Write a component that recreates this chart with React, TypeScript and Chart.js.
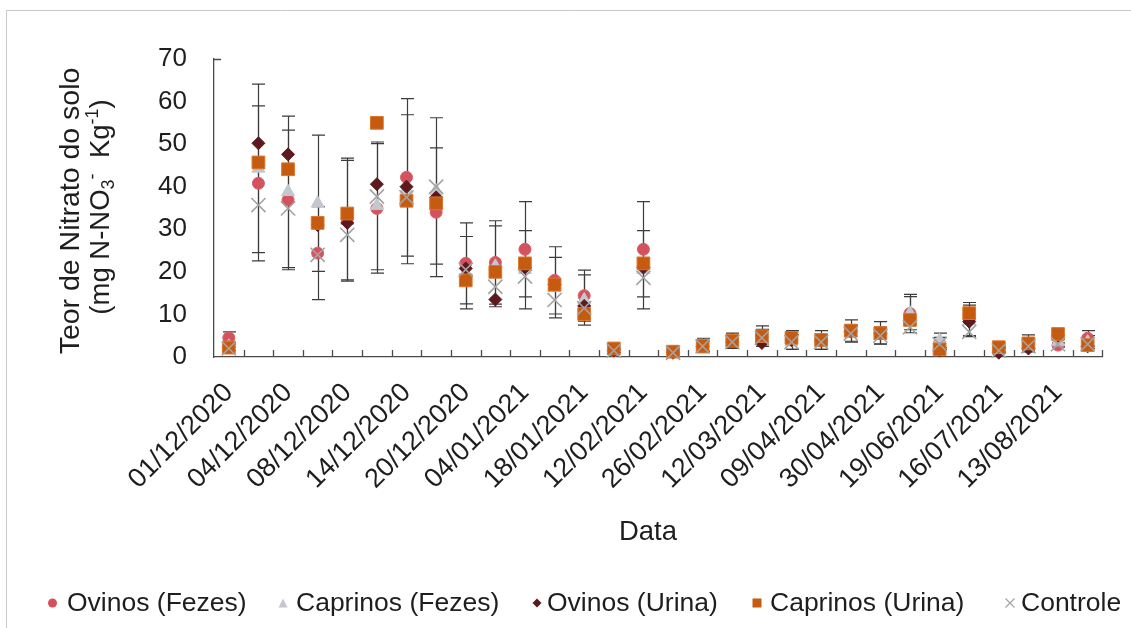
import React, { useEffect, useRef } from 'react';
import { Chart, registerables } from 'chart.js';

Chart.register(...registerables);

const categories = [
  '01/12/2020', '', '04/12/2020', '', '08/12/2020', '', '14/12/2020', '', '20/12/2020', '',
  '04/01/2021', '', '18/01/2021', '', '12/02/2021', '', '26/02/2021', '', '12/03/2021', '',
  '09/04/2021', '', '30/04/2021', '', '19/06/2021', '', '16/07/2021', '', '13/08/2021', '',
];

const yTicks = [0, 10, 20, 30, 40, 50, 60, 70];

const ovinosFezes = [4.5, 40.8, 36.9, 24.4, 32.4, 34.9, 42.2, 34.0, 22.0, 22.2, 25.3, 18.0, 14.4, 1.5, 25.3, 1.2, 2.7, 3.9, 4.9, 4.0, 4.0, 6.2, 5.7, 10.2, 3.2, 8.9, 1.8, 3.2, 2.8, 4.4];
const errOvinosFezes = [1.4, 18.2, 16.4, 10.9, 14.3, 15.2, 18.5, 15.1, 9.5, 9.8, 11.2, 7.9, 6.0, 0.5, 11.2, 0.4, 1.7, 1.7, 2.4, 2.2, 2.2, 2.5, 2.6, 4.5, 1.4, 3.9, 0.6, 2.0, 0.5, 1.8];

const caprinosFezes = [2.5, 44.3, 38.8, 36.1, 32.0, 35.5, 39.4, 39.0, 19.8, 21.3, 20.5, 16.3, 13.4, 1.5, 20.5, 1.0, 2.5, 3.5, 4.5, 3.5, 3.5, 5.5, 5.0, 10.3, 3.9, 8.5, 1.5, 2.8, 3.5, 3.5];
const errCaprinosFezes = [1.0, 19.8, 17.8, 16.0, 14.2, 15.0, 17.5, 17.2, 8.5, 9.5, 9.2, 7.1, 5.9, 0.5, 9.2, 0.4, 1.2, 1.5, 2.0, 1.7, 1.7, 2.0, 2.0, 3.9, 1.7, 3.7, 0.5, 1.2, 1.0, 1.5];

const ovinosUrina = [2.3, 50.2, 47.6, 31.0, 31.5, 40.6, 40.0, 37.5, 20.8, 13.5, 21.0, 17.0, 12.0, 1.5, 21.0, 1.0, 2.5, 3.5, 3.3, 4.0, 3.8, 6.0, 5.5, 8.5, 1.5, 8.3, 1.0, 2.0, 5.0, 2.5];

const caprinosUrina = [2.2, 45.7, 44.1, 31.5, 33.7, 55.0, 36.7, 36.1, 18.0, 20.0, 22.0, 17.0, 10.1, 2.0, 22.0, 1.25, 2.6, 3.8, 4.9, 4.5, 4.0, 6.2, 5.6, 8.7, 1.8, 10.3, 2.3, 3.2, 5.4, 2.8];

const controle = [2.0, 35.7, 34.9, 24.0, 28.7, 37.7, 37.5, 40.0, 20.5, 16.5, 18.9, 13.4, 11.5, 1.5, 18.6, 1.0, 2.5, 3.5, 4.5, 3.5, 3.5, 5.5, 5.0, 7.0, 3.0, 5.9, 1.5, 2.5, 3.0, 3.0];

const FONT = '"Liberation Sans", Arial, Helvetica, sans-serif';
const TEXT = '#1e1e1e';
const AXIS = '#4a4a4a';

const series = [
  { label: 'Ovinos (Fezes)', data: ovinosFezes, err: errOvinosFezes, style: 'circle', radius: 6, bg: '#D4525D', border: '#D95F69', bw: 1 },
  { label: 'Caprinos (Fezes)', data: caprinosFezes, err: errCaprinosFezes, style: 'triangle', radius: 7.5, bg: '#C4C7CF', border: '#C4C7CF', bw: 1 },
  { label: 'Ovinos (Urina)', data: ovinosUrina, err: null, style: 'rectRot', radius: 6.5, bg: '#5C1A1E', border: '#5C1A1E', bw: 1 },
  { label: 'Caprinos (Urina)', data: caprinosUrina, err: null, style: 'rect', radius: 9, bg: '#C55A11', border: '#DD7428', bw: 1 },
  { label: 'Controle', data: controle, err: null, style: 'crossRot', radius: 10, bg: 'rgba(0,0,0,0)', border: '#A3A3A3', bw: 1.6 },
];

// legend layout (marker centre x, text start x)
const legendMarkerX = [52.5, 283, 537, 757, 1010];
const legendTextX = [67, 296, 547, 770, 1021];

function drawMarker(ctx: CanvasRenderingContext2D, style: string, x: number, y: number, s: number, fill: string, stroke: string) {
  ctx.save();
  ctx.beginPath();
  ctx.fillStyle = fill;
  ctx.strokeStyle = stroke;
  if (style === 'circle') {
    ctx.arc(x, y, s / 2, 0, Math.PI * 2);
    ctx.fill();
  } else if (style === 'triangle') {
    ctx.moveTo(x, y - s / 2);
    ctx.lineTo(x + s / 2, y + s / 2);
    ctx.lineTo(x - s / 2, y + s / 2);
    ctx.closePath();
    ctx.fill();
  } else if (style === 'rectRot') {
    ctx.moveTo(x, y - s / 2);
    ctx.lineTo(x + s / 2, y);
    ctx.lineTo(x, y + s / 2);
    ctx.lineTo(x - s / 2, y);
    ctx.closePath();
    ctx.fill();
  } else if (style === 'rect') {
    ctx.rect(x - s / 2, y - s / 2, s, s);
    ctx.fill();
  } else {
    ctx.lineWidth = 1.2;
    ctx.moveTo(x - s / 2, y - s / 2);
    ctx.lineTo(x + s / 2, y + s / 2);
    ctx.moveTo(x + s / 2, y - s / 2);
    ctx.lineTo(x - s / 2, y + s / 2);
    ctx.stroke();
  }
  ctx.restore();
}

const framePlugin = {
  id: 'frame',
  beforeDraw(chart: any) {
    const { ctx, width, height } = chart;
    ctx.save();
    ctx.fillStyle = '#ffffff';
    ctx.fillRect(0, 0, width, height);
    ctx.strokeStyle = '#C8C8C8';
    ctx.lineWidth = 1;
    ctx.beginPath();
    ctx.moveTo(6.5, height);
    ctx.lineTo(6.5, 10.5);
    ctx.lineTo(width, 10.5);
    ctx.stroke();
    ctx.restore();
  },
};

const ticksAndErrorsPlugin = {
  id: 'ticksAndErrors',
  beforeDatasetsDraw(chart: any) {
    const { ctx } = chart;
    const xs = chart.scales.x;
    const ys = chart.scales.y;
    const { bottom, top, left } = chart.chartArea;
    ctx.save();
    ctx.strokeStyle = AXIS;
    ctx.lineWidth = 1.3;
    ctx.beginPath();
    for (let i = 1; i <= categories.length; i++) {
      const x = Math.round(xs.getPixelForValue(i - 0.5)) + 0.5;
      ctx.moveTo(x, bottom);
      ctx.lineTo(x, bottom - 7);
    }
    // small mark at the top of the value axis
    ctx.moveTo(left, Math.round(top) + 0.5);
    ctx.lineTo(left + 7, Math.round(top) + 0.5);
    ctx.stroke();

    ctx.strokeStyle = '#3c3c3c';
    ctx.lineWidth = 1.2;
    chart.data.datasets.forEach((ds: any, di: number) => {
      const err = ds.errors;
      if (!err) return;
      const meta = chart.getDatasetMeta(di);
      meta.data.forEach((pt: any, i: number) => {
        const v = ds.data[i];
        const e = err[i];
        if (v == null || !e) return;
        const x = Math.round(pt.x) + 0.5;
        const yt = ys.getPixelForValue(v + e);
        const yb = ys.getPixelForValue(v - e);
        ctx.beginPath();
        ctx.moveTo(x, yt);
        ctx.lineTo(x, yb);
        ctx.moveTo(x - 6.5, yt);
        ctx.lineTo(x + 6.5, yt);
        ctx.moveTo(x - 6.5, yb);
        ctx.lineTo(x + 6.5, yb);
        ctx.stroke();
      });
    });
    ctx.restore();
  },
};

const textPlugin = {
  id: 'texts',
  afterDraw(chart: any) {
    const { ctx } = chart;
    const area = chart.chartArea;
    ctx.save();
    ctx.fillStyle = TEXT;

    // Y axis title (two lines, rotated)
    const cy = (area.top + area.bottom) / 2;
    ctx.save();
    ctx.translate(79, cy + 3);
    ctx.rotate(-Math.PI / 2);
    ctx.font = `28.5px ${FONT}`;
    ctx.textAlign = 'center';
    ctx.textBaseline = 'alphabetic';
    ctx.fillText('Teor de Nitrato do solo', 0, 0);
    ctx.restore();

    ctx.save();
    ctx.translate(109, cy - 1);
    ctx.rotate(-Math.PI / 2);
    ctx.textBaseline = 'alphabetic';
    ctx.textAlign = 'left';
    const big = `27.5px ${FONT}`;
    const small = `18px ${FONT}`;
    const parts: [string, string, number][] = [
      ['(mg N-NO', big, 0],
      ['3', small, 5],
      ['-', small, -11],
      ['  Kg', big, 0],
      ['-1', small, -11],
      [')', big, 0],
    ];
    let total = 0;
    parts.forEach(([t, f]) => { ctx.font = f; total += ctx.measureText(t).width; });
    let px = -total / 2;
    parts.forEach(([t, f, dy]) => {
      ctx.font = f;
      ctx.fillText(t, px, dy);
      px += ctx.measureText(t).width;
    });
    ctx.restore();

    // X axis title
    ctx.font = `27.5px ${FONT}`;
    ctx.textAlign = 'center';
    ctx.textBaseline = 'alphabetic';
    ctx.fillText('Data', 648, 540);

    // Legend
    ctx.font = `26.5px ${FONT}`;
    ctx.textAlign = 'left';
    const yMid = 603;
    const yBase = 611;
    chart.data.datasets.forEach((ds: any, i: number) => {
      const s = series[i];
      const fill = s.style === 'crossRot' ? s.border : s.bg;
      drawMarker(ctx, s.style, legendMarkerX[i], yMid, 9, fill, s.border);
      ctx.fillStyle = TEXT;
      ctx.fillText(ds.label, legendTextX[i], yBase);
    });
    ctx.restore();
  },
};

export default function App() {
  const ref = useRef<HTMLCanvasElement | null>(null);
  useEffect(() => {
    if (!ref.current) return;
    Chart.defaults.font.family = FONT;
    const chart = new Chart(ref.current, {
      type: 'line',
      data: {
        labels: categories,
        datasets: series.map((s, i) => ({
          label: s.label,
          data: s.data,
          errors: s.err,
          showLine: false,
          pointStyle: s.style,
          pointRadius: s.radius,
          pointHoverRadius: s.radius,
          pointBackgroundColor: s.bg,
          pointBorderColor: s.border,
          pointBorderWidth: s.bw,
          borderColor: s.border,
          backgroundColor: s.bg,
          order: series.length - i,
          clip: false,
        })) as any,
      },
      options: {
        animation: false,
        responsive: false,
        maintainAspectRatio: false,
        layout: { padding: { left: 0, right: 26, top: 59, bottom: 0 } },
        plugins: { legend: { display: false }, tooltip: { enabled: false }, title: { display: false } },
        scales: {
          x: {
            type: 'category',
            offset: true,
            grid: { display: true, drawOnChartArea: false, drawTicks: false, offset: true },
            border: { display: true, color: AXIS, width: 1.3 },
            ticks: { autoSkip: false, maxRotation: 45, minRotation: 45, padding: 20, color: TEXT, font: { size: 27, family: FONT } },
            afterFit: (s: any) => { s.height = 271; },
          },
          y: {
            min: 0,
            max: 70,
            afterBuildTicks: (s: any) => { s.ticks = yTicks.map((v) => ({ value: v })); },
            grid: { display: true, drawOnChartArea: false, drawTicks: false },
            border: { display: true, color: AXIS, width: 1.3 },
            ticks: { padding: 27, color: TEXT, font: { size: 26, family: FONT } },
            afterFit: (s: any) => { s.width = 214; },
          },
        },
      } as any,
      plugins: [framePlugin, ticksAndErrorsPlugin, textPlugin],
    });
    return () => chart.destroy();
  }, []);
  return (
    <div style={{ position: 'fixed', left: 0, top: 0, width: 1131, height: 628, background: '#fff' }}>
      <canvas ref={ref} width={1131} height={628} style={{ display: 'block', width: 1131, height: 628 }} />
    </div>
  );
}
